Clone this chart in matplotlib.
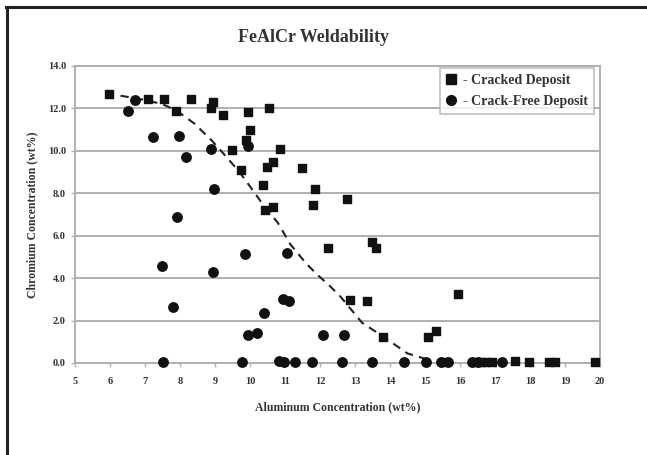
import matplotlib.pyplot as plt
from matplotlib.lines import Line2D

# cracked deposits (squares)
cracked_al = [5.98, 7.08, 7.55, 8.31, 7.89, 8.95, 8.89, 9.24, 9.95, 10.55,
              10.0, 9.89, 9.48, 10.86, 9.74, 10.49, 10.66, 11.48, 10.38, 10.67,
              10.43, 11.86, 11.81, 12.76, 12.24, 13.48, 13.6, 12.86, 13.33, 13.81,
              15.09, 15.3, 15.93, 15.55, 16.45, 16.6, 16.75, 16.9, 17.57, 17.98,
              18.55, 18.72, 19.86]
cracked_cr = [12.7, 12.45, 12.45, 12.45, 11.9, 12.3, 12.0, 11.67, 11.83, 12.0,
              10.96, 10.5, 10.02, 10.1, 9.08, 9.24, 9.47, 9.19, 8.38, 7.36,
              7.2, 8.2, 7.44, 7.72, 5.44, 5.71, 5.4, 2.96, 2.92, 1.21,
              1.24, 1.5, 3.23, 0.05, 0.05, 0.05, 0.05, 0.05, 0.08, 0.05,
              0.05, 0.05, 0.05]

# crack-free deposits (circles)
free_al = [6.52, 6.71, 7.24, 7.98, 8.16, 8.89, 9.95, 8.97, 7.9, 7.48,
           8.93, 9.86, 11.05, 7.81, 10.95, 11.1, 10.4, 9.95, 10.21, 12.08,
           12.69, 7.52, 9.76, 10.84, 10.97, 11.29, 11.76, 12.62, 13.48, 14.4,
           15.03, 15.45, 15.65, 16.35, 16.5, 17.19]
free_cr = [11.86, 12.38, 10.65, 10.7, 9.71, 10.1, 10.25, 8.19, 6.9, 4.58,
           4.3, 5.13, 5.19, 2.65, 3.04, 2.93, 2.34, 1.32, 1.43, 1.32,
           1.32, 0.05, 0.05, 0.1, 0.05, 0.05, 0.05, 0.05, 0.05, 0.05,
           0.05, 0.05, 0.05, 0.05, 0.05, 0.05]

# dashed boundary line
curve_al = [6.3, 7.0, 7.5, 7.9, 8.4, 8.9, 9.2, 9.7, 10.1, 10.4, 10.8, 11.15,
            11.6, 11.9, 12.3, 12.6, 13.2, 13.8, 14.5, 15.0]
curve_cr = [12.6, 12.4, 12.2, 11.9, 11.3, 10.5, 9.95, 9.0, 8.1, 7.4, 6.6, 5.6,
            4.7, 4.2, 3.6, 3.1, 1.9, 1.25, 0.45, 0.2]

x_ticks = list(range(5, 21))
y_ticks = [0, 2, 4, 6, 8, 10, 12, 14]

serif = "Liberation Serif"
txt = "#333333"
grid = "#b0b0b0"

fig = plt.figure(figsize=(6.47, 4.55), dpi=100)
ax = fig.add_axes([75 / 647, 92 / 455, 525 / 647, 297 / 455])

ax.set_xlim(5, 20)
ax.set_ylim(0, 14)
ax.set_yticks(y_ticks)
ax.set_xticks(x_ticks)
ax.set_yticklabels([f"{v:.1f}" for v in y_ticks])
ax.set_xticklabels([str(v) for v in x_ticks])
ax.yaxis.grid(True, color=grid, lw=1.4)
ax.set_axisbelow(True)
for s in ax.spines.values():
    s.set_color(grid)
    s.set_linewidth(1.4)
ax.tick_params(axis="both", colors=grid, length=3, width=1)
for lab in ax.get_xticklabels() + ax.get_yticklabels():
    lab.set_fontfamily(serif)
    lab.set_fontweight("bold")
    lab.set_fontsize(7.5)
    lab.set_color(txt)
ax.tick_params(axis="x", pad=7)

ax.plot(curve_al, curve_cr, color="#222222", lw=1.5, ls=(0, (4, 3)), zorder=3)
ax.scatter(cracked_al, cracked_cr, marker="s", s=40, color="#111111", zorder=4, clip_on=False)
ax.scatter(free_al, free_cr, marker="o", s=46, color="#111111", zorder=4, clip_on=False)

ax.set_xlabel("Aluminum Concentration (wt%)", fontfamily=serif, fontweight="bold",
              fontsize=8.5, color=txt, labelpad=11)
ax.set_ylabel("Chromium Concentration (wt%)", fontfamily=serif, fontweight="bold",
              fontsize=8.5, color=txt, labelpad=7)

fig.text(313 / 647, 1 - 38 / 455, "FeAlCr Weldability", ha="center", va="center",
         fontfamily=serif, fontweight="bold", fontsize=13, color=txt)

handles = [
    Line2D([], [], marker="s", ls="none", color="#111111", markersize=7),
    Line2D([], [], marker="o", ls="none", color="#111111", markersize=7),
]
leg = ax.legend(handles, ["- Cracked Deposit", "- Crack-Free Deposit"],
                loc="upper right", bbox_to_anchor=(0.989, 0.993), borderaxespad=0,
                frameon=True, fancybox=False, edgecolor=grid, handlelength=0.7,
                handletextpad=0.5, borderpad=0.45, labelspacing=0.55,
                prop={"family": serif, "weight": "bold", "size": 10})
leg.get_frame().set_linewidth(1.2)
for t in leg.get_texts():
    t.set_color(txt)

# outer frame around the figure (only left and top edges visible)
fig.add_artist(Line2D([7 / 647, 7 / 647], [0, 1 - 7 / 455], color="#222222", lw=2.2))
fig.add_artist(Line2D([6 / 647, 1], [1 - 7 / 455, 1 - 7 / 455], color="#222222", lw=2.2))

fig.savefig("out.png", dpi=100)
